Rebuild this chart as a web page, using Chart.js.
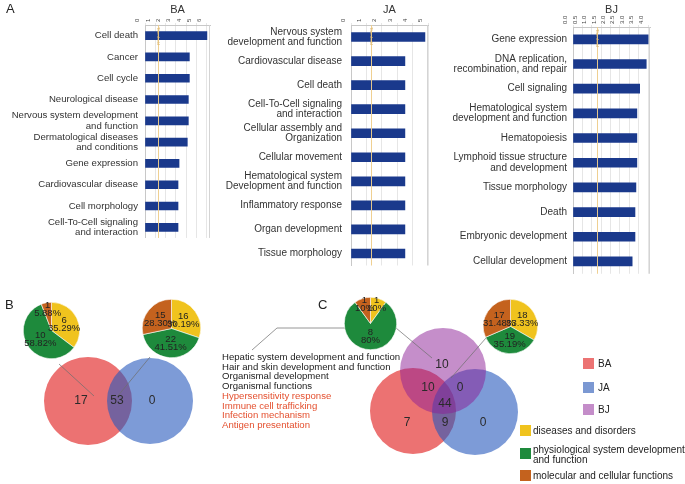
<!DOCTYPE html>
<html>
<head>
<meta charset="utf-8">
<script src="https://cdn.jsdelivr.net/npm/chart.js@4.4.0/dist/chart.umd.min.js"></script>
<style>
  body { margin: 0; background: #fff; font-family: "Liberation Sans", Arial, sans-serif; }
  #wrap { position: relative; width: 685px; height: 484px; overflow: hidden; }
  canvas { position: absolute; }
  .t { position: absolute; white-space: nowrap; color: #222; font-size: 10px; line-height: 10px; }
  .letter { font-size: 13px; line-height: 13px; color: #222; }
  .red { color: #E4502F; }
  .sq { position: absolute; width: 11px; height: 11px; }
</style>
</head>
<body>
<div id="wrap">
  <!-- the bubble chart pads its area by the largest radius (44px), so the canvas is grown by that much on every side -->
  <canvas id="venn" width="773" height="282" style="left:-44px;top:246px"></canvas>
  <canvas id="ba" width="215" height="250" style="left:0;top:0"></canvas>
  <canvas id="ja" width="215" height="285" style="left:225px;top:0"></canvas>
  <canvas id="bj" width="245" height="285" style="left:440px;top:0"></canvas>
  <canvas id="pie1" width="57" height="57" style="left:23px;top:302px"></canvas>
  <canvas id="pie2" width="59" height="59" style="left:142px;top:299px"></canvas>
  <canvas id="pie3" width="53" height="53" style="left:344px;top:297px"></canvas>
  <canvas id="pie4" width="55" height="55" style="left:483px;top:299px"></canvas>

  <div class="t letter" style="left:6px;top:2px">A</div>
  <div class="t letter" style="left:5px;top:298px">B</div>
  <div class="t letter" style="left:318px;top:298px">C</div>

  <div id="terms" class="t" style="left:222px;top:352px;font-size:9.6px;line-height:9.7px"></div>

  <div class="sq" style="left:583px;top:358px;background:#EC7373"></div>
  <div class="t" style="left:598px;top:359px">BA</div>
  <div class="sq" style="left:583px;top:382px;background:#7B98D2"></div>
  <div class="t" style="left:598px;top:383px">JA</div>
  <div class="sq" style="left:583px;top:404px;background:#C48DC9"></div>
  <div class="t" style="left:598px;top:405px">BJ</div>

  <div class="sq" style="left:520px;top:425px;background:#F0C31E"></div>
  <div class="t" style="left:533px;top:426px">diseases and disorders</div>
  <div class="sq" style="left:520px;top:448px;background:#1E8A3C"></div>
  <div class="t" style="left:533px;top:445px;line-height:9.5px">physiological system development<br>and function</div>
  <div class="sq" style="left:520px;top:470px;background:#C4621E"></div>
  <div class="t" style="left:533px;top:471px">molecular and cellular functions</div>
</div>
<script>
// panel A: -log(p) of enriched functions
const baLabels = ['Cell death', 'Cancer', 'Cell cycle', 'Neurological disease',
  ['Nervous system development', 'and function'], ['Dermatological diseases', 'and conditions'],
  'Gene expression', 'Cardiovascular disease', 'Cell morphology', ['Cell-To-Cell signaling', 'and interaction']];
const baValues = [6.0, 4.3, 4.3, 4.2, 4.2, 4.1, 3.3, 3.2, 3.2, 3.2];

const jaLabels = [['Nervous system', 'development and function'], 'Cardiovascular disease', 'Cell death',
  ['Cell-To-Cell signaling', 'and interaction'], ['Cellular assembly and', 'Organization'], 'Cellular movement',
  ['Hematological system', 'Development and function'], 'Inflammatory response', 'Organ development', 'Tissue morphology'];
const jaValues = [4.8, 3.5, 3.5, 3.5, 3.5, 3.5, 3.5, 3.5, 3.5, 3.5];

const bjLabels = ['Gene expression', ['DNA replication,', 'recombination, and repair'], 'Cell signaling',
  ['Hematological system', 'development and function'], 'Hematopoiesis',
  ['Lymphoid tissue structure', 'and development'], 'Tissue morphology', 'Death',
  'Embryonic development', 'Cellular development'];
const bjValues = [4.0, 3.9, 3.55, 3.4, 3.4, 3.4, 3.35, 3.3, 3.3, 3.15];

const thresholdValue = 1.3;

// panels B and C: category split of the Venn regions
const pieCategories = ['diseases and disorders', 'physiological system development and function', 'molecular and cellular functions'];
const pieBaOnly = [6, 10, 1];
const pieBaJa = [16, 22, 15];
const pieBaBj = [1, 8, 1];
const pieAll = [18, 19, 17];

const vennBRegions = ['BA only', 'BA ∩ JA', 'JA only'];
const vennBCounts = [17, 53, 0];
const vennCRegions = ['BA only', 'JA only', 'BJ only', 'BA ∩ JA', 'BA ∩ BJ', 'JA ∩ BJ', 'BA ∩ JA ∩ BJ'];
const vennCCounts = [7, 0, 10, 9, 10, 0, 44];

const termsBlack = ['Hepatic system development and function', 'Hair and skin development and function',
  'Organismal development', 'Organismal functions'];
const termsRed = ['Hypersensitivity response', 'Immune cell trafficking', 'Infection mechanism', 'Antigen presentation'];

document.getElementById('terms').innerHTML =
  termsBlack.map(s => '<div>' + s + '</div>').join('') +
  termsRed.map(s => '<div class="red">' + s + '</div>').join('');

const FONT = '"Liberation Sans", Arial, sans-serif';
Chart.defaults.font.family = FONT;

const thresholdLine = {
  id: 'threshold',
  afterDatasetsDraw(chart, args, opts) {
    const { ctx, chartArea: a, scales: { x } } = chart;
    const px = Math.round(x.getPixelForValue(opts.value)) + 0.5;
    ctx.save();
    ctx.strokeStyle = 'rgba(238,206,140,0.95)';
    ctx.lineWidth = 1;
    ctx.beginPath();
    ctx.moveTo(px, a.top);
    ctx.lineTo(px, a.bottom);
    ctx.stroke();
    ctx.translate(px - 2, a.top + 2);
    ctx.rotate(Math.PI / 2);
    ctx.fillStyle = '#DDB56A';
    ctx.font = '4px ' + FONT;
    ctx.fillText('Threshold', 0, 0);
    ctx.restore();
    // right frame of the plot
    ctx.save();
    ctx.strokeStyle = '#D4D4D4';
    ctx.beginPath();
    ctx.moveTo(a.right - 0.5, a.top);
    ctx.lineTo(a.right - 0.5, a.bottom);
    ctx.stroke();
    ctx.restore();
  }
};

function barChart(id, labels, values, o) {
  return new Chart(document.getElementById(id), {
    type: 'bar',
    data: { labels, datasets: [{ data: values, backgroundColor: '#1A398C', barThickness: o.bar }] },
    options: {
      responsive: false, animation: false, indexAxis: 'y',
      layout: { padding: { top: 0, left: 0, right: o.right, bottom: o.bottom } },
      plugins: { legend: { display: false }, tooltip: { enabled: false }, threshold: { value: thresholdValue } },
      scales: {
        x: {
          position: 'top', min: 0, max: o.max,
          afterFit: s => { s.height = o.axisH; },
          ticks: { stepSize: o.step, includeBounds: false, autoSkip: false, minRotation: 90, maxRotation: 90,
            font: { size: 6 }, color: '#444', padding: 1,
            callback: v => o.step < 1 ? Number(v).toFixed(1) : v },
          grid: { color: '#E6E6E6', tickLength: 2 },
          border: { color: '#C8C8C8' },
          title: { display: true, text: o.title, font: { size: 11 }, color: '#333', padding: { top: 3, bottom: 0 } }
        },
        y: {
          afterFit: s => { s.width = o.axisW; },
          ticks: { autoSkip: false, font: { size: o.font, lineHeight: 1.05 }, color: '#333', padding: o.pad },
          grid: { display: false, drawTicks: false },
          border: { color: '#C8C8C8' }
        }
      }
    },
    plugins: [thresholdLine]
  });
}

barChart('ba', baLabels, baValues, { title: 'BA', max: 6.3, step: 1, bar: 8, axisW: 145, axisH: 25, right: 5, bottom: 9, pad: 7, font: 9.6 });
barChart('ja', jaLabels, jaValues, { title: 'JA', max: 5, step: 1, bar: 9, axisW: 126, axisH: 25, right: 12, bottom: 9, pad: 9, font: 10 });
barChart('bj', bjLabels, bjValues, { title: 'BJ', max: 4.1, step: 0.5, bar: 9, axisW: 133, axisH: 27, right: 35, bottom: 7, pad: 6, font: 10 });

const pieColors = ['#F0C31E', '#1E8A3C', '#C4621E'];

const pieText = {
  id: 'pieText',
  afterDatasetsDraw(chart) {
    const { ctx } = chart;
    const data = chart.data.datasets[0].data;
    const total = data.reduce((a, b) => a + b, 0);
    ctx.save();
    ctx.font = '9.5px ' + FONT;
    ctx.fillStyle = '#222';
    ctx.textAlign = 'center';
    ctx.textBaseline = 'middle';
    chart.getDatasetMeta(0).data.forEach((arc, i) => {
      const p = arc.getProps(['x', 'y', 'startAngle', 'endAngle', 'outerRadius'], true);
      const mid = (p.startAngle + p.endAngle) / 2;
      const share = data[i] / total;
      const rr = p.outerRadius * (share < 0.15 ? 0.75 : 0.5);
      const cx = p.x + Math.cos(mid) * rr, cy = p.y + Math.sin(mid) * rr;
      const pct = share * 100;
      const pctText = (Math.abs(pct - Math.round(pct)) < 1e-9 ? pct.toFixed(0) : pct.toFixed(2)) + '%';
      ctx.fillText(String(data[i]), cx, cy - 4);
      ctx.fillText(pctText, cx, cy + 4);
    });
    ctx.restore();
  }
};

function pieChart(id, values) {
  return new Chart(document.getElementById(id), {
    type: 'pie',
    data: { labels: pieCategories, datasets: [{ data: values, backgroundColor: pieColors, borderColor: '#fff', borderWidth: 0.6 }] },
    options: { responsive: false, animation: false, layout: { padding: 0 },
      plugins: { legend: { display: false }, tooltip: { enabled: false } } },
    plugins: [pieText]
  });
}
pieChart('pie1', pieBaOnly);
pieChart('pie2', pieBaJa);
pieChart('pie3', pieBaBj);
pieChart('pie4', pieAll);

// Venn layout (diagram units of the lower strip, 685 x 194)
const vennCircles = [
  { x: 88, y: 111, r: 44, color: 'rgb(236,114,114)' },
  { x: 150, y: 111, r: 43, color: 'rgba(38,88,188,0.6)' },
  { x: 413, y: 121, r: 43, color: 'rgb(236,114,114)' },
  { x: 475, y: 122, r: 43, color: 'rgba(38,88,188,0.6)' },
  { x: 443, y: 81, r: 43, color: 'rgba(140,30,150,0.5)' }
];
const vennBSpots = [[81, 111], [117, 111], [152, 111]];
const vennCSpots = [[407, 133], [483, 133], [442, 75], [445, 133], [428, 98], [460, 98], [445, 114]];
const connectors = [
  [[59, 74], [94, 106]],
  [[150, 67], [117, 107]],
  [[252, 60], [277, 38], [396, 38], [432, 68]],
  [[486, 48], [451, 88]]
];

const vennText = {
  id: 'vennText',
  afterDatasetsDraw(chart) {
    const { ctx, scales: { x, y } } = chart;
    ctx.save();
    ctx.strokeStyle = 'rgba(110,110,110,0.9)';
    ctx.lineWidth = 0.8;
    connectors.forEach(line => {
      ctx.beginPath();
      line.forEach(([vx, vy], i) => {
        const px = x.getPixelForValue(vx), py = y.getPixelForValue(vy);
        if (i === 0) ctx.moveTo(px, py); else ctx.lineTo(px, py);
      });
      ctx.stroke();
    });
    ctx.font = '12px ' + FONT;
    ctx.fillStyle = '#2a2a2a';
    ctx.textAlign = 'center';
    ctx.textBaseline = 'middle';
    vennBCounts.forEach((c, i) => ctx.fillText(String(c), x.getPixelForValue(vennBSpots[i][0]), y.getPixelForValue(vennBSpots[i][1])));
    vennCCounts.forEach((c, i) => ctx.fillText(String(c), x.getPixelForValue(vennCSpots[i][0]), y.getPixelForValue(vennCSpots[i][1])));
    ctx.restore();
  }
};

new Chart(document.getElementById('venn'), {
  type: 'bubble',
  data: { datasets: [{
    data: vennCircles.map(c => ({ x: c.x, y: c.y, r: c.r })),
    backgroundColor: vennCircles.map(c => c.color),
    borderWidth: 0, hoverRadius: 0, clip: false
  }] },
  options: {
    responsive: false, animation: false, layout: { padding: 0 },
    plugins: { legend: { display: false }, tooltip: { enabled: false } },
    scales: {
      x: { display: false, min: 0, max: 685 },
      y: { display: false, min: 0, max: 194, reverse: true }
    }
  },
  plugins: [vennText]
});
</script>
</body>
</html>
